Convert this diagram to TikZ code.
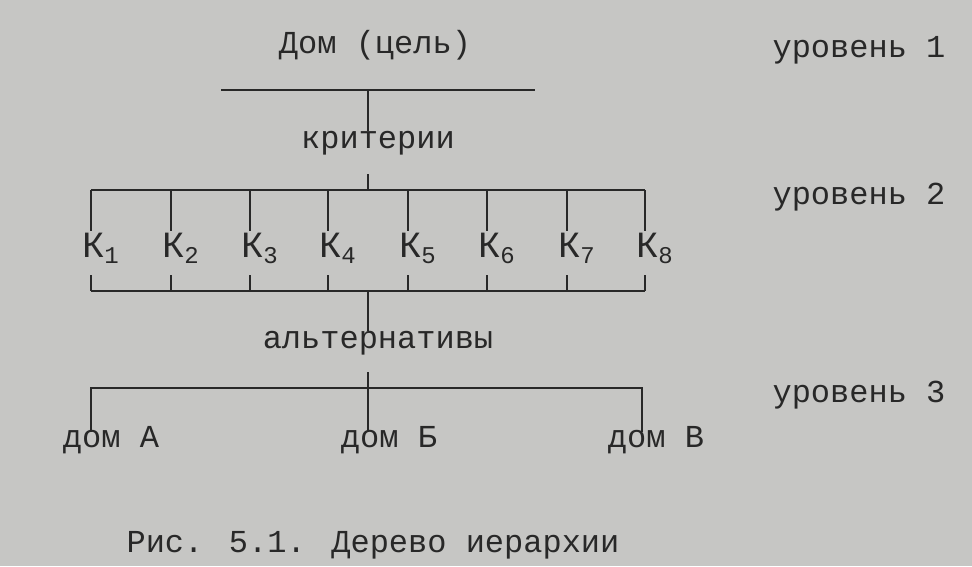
\documentclass[tikz,border=0pt]{standalone}
\usepackage{fontspec}
\setmainfont{Liberation Mono}
\usepackage{tikz}
\definecolor{paper}{RGB}{198,198,196}
\definecolor{ink}{RGB}{40,40,40}
\tikzset{
	lbl/.style={inner sep=0pt, text=ink, font=\fontsize{32}{36}\selectfont},
	crit/.style={lbl, anchor=base west},
	bar/.style={draw=ink, line width=2.6pt}
}
\newcommand{\kname}[1]{{\fontsize{37}{40}\selectfont К}\raisebox{-6pt}{\fontsize{24}{26}\selectfont #1}}

\begin{document}
\begin{tikzpicture}[x=1pt,y=-1pt]
		\fill[paper] (0,0) rectangle (972,566);
		\useasboundingbox (0,0) rectangle (972,566);

		% level 1
		\node[lbl] (goal) at (375,45) {Дом (цель)};
		\coordinate (goalL) at (221,90);
		\coordinate (goalR) at (535,90);
		\coordinate (goalM) at (368,90);
		\coordinate (critT) at (368,131);
		\draw[bar] (goalL) -- (goalR);
		\draw[bar] (goalM) -- (critT);

		\node[lbl] (crit) at (378,143) {критерии};

		% level 2
		\coordinate (critB) at (368,174);
		\coordinate (critM) at (368,190);
		\coordinate (topL) at (91,190);
		\coordinate (topR) at (645,190);
		\draw[bar] (critB) -- (critM);
		\draw[bar] (topL) -- (topR);

		\foreach \i/\x in {1/91,2/171,3/250,4/328,5/408,6/487,7/567,8/645}{
			\node[crit] (k\i) at (\x-9,257) {\kname{\i}};
			\coordinate (up\i) at (\x,190);
			\coordinate (upk\i) at (\x,231);
			\coordinate (dnk\i) at (\x,275);
			\coordinate (dn\i) at (\x,291);
			\draw[bar] (up\i) -- (upk\i);
			\draw[bar] (dnk\i) -- (dn\i);
		}
		\coordinate (botL) at (91,291);
		\coordinate (botR) at (645,291);
		\coordinate (botM) at (368,291);
		\coordinate (altT) at (368,331);
		\draw[bar] (botL) -- (botR);
		\draw[bar] (botM) -- (altT);

		\node[lbl] (alt) at (378,343) {альтернативы};

		% level 3
		\coordinate (altB) at (368,372);
		\coordinate (houseBT) at (368,432);
		\coordinate (altL) at (91,388);
		\coordinate (altR) at (642,388);
		\coordinate (houseAT) at (91,432);
		\coordinate (houseCT) at (642,432);
		\draw[bar] (altB) -- (houseBT);
		\draw[bar] (houseAT) -- (altL) -- (altR) -- (houseCT);

		\node[lbl] (houseA) at (111,440) {дом А};
		\node[lbl] (houseB) at (389,440) {дом Б};
		\node[lbl] (houseC) at (656,440) {дом В};

		\node[lbl] (lvl1) at (859,50) {уровень 1};
		\node[lbl] (lvl2) at (859,197) {уровень 2};
		\node[lbl] (lvl3) at (859,395) {уровень 3};

		\node[lbl] (caption) at (373,545) {Рис. 5.1. Дерево иерархии};
	\end{tikzpicture}
\end{document}
